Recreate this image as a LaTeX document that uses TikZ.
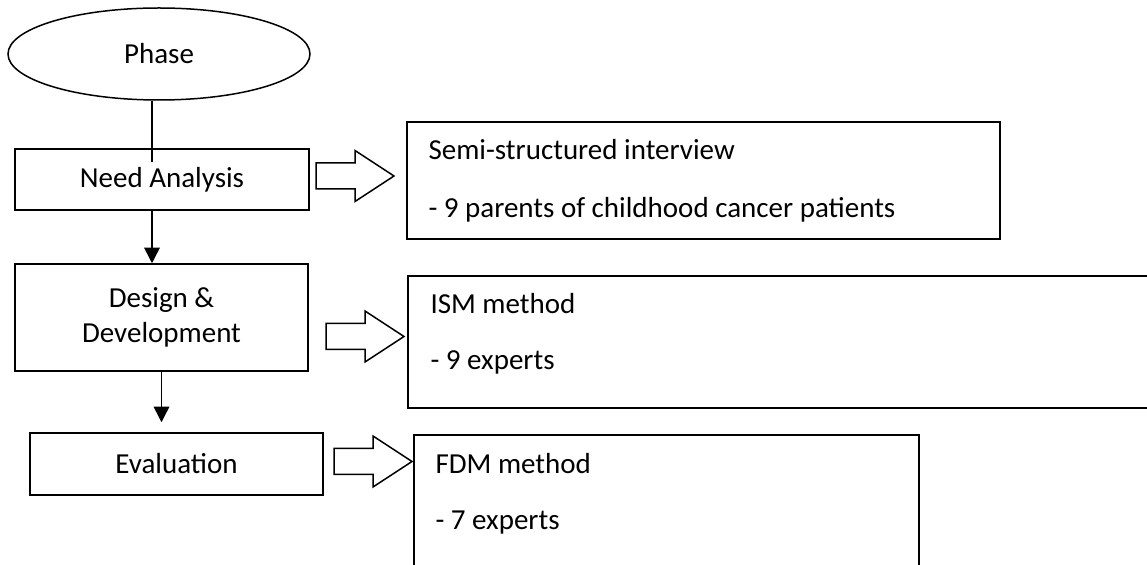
\documentclass[tikz,border=0pt]{standalone}
\usepackage{fontspec}
\setmainfont{Carlito}
\usetikzlibrary{shapes.geometric,arrows.meta}
\begin{document}
\begin{tikzpicture}[x=0.4pt,y=-0.4pt,
  font=\fontsize{11.6}{14}\selectfont,
  phasebox/.style={draw,line width=0.6pt,align=center,inner sep=0pt},
  sidebox/.style={draw,line width=0.8pt,inner sep=0pt},
  sidetext/.style={anchor=base west,inner sep=0pt},
  flow/.style={line width=0.6pt,-{Triangle[width=6.2pt,length=6.2pt]}},
  pics/fatarrow/.style={code={
    \draw[line width=0.6pt,line join=miter]
      (0,-13) -- (39,-13) -- (39,-25.5) -- (78,0) -- (39,25.5) -- (39,13) -- (0,13) -- cycle;}}]
  \useasboundingbox (0,0) rectangle (1147,565);
  \clip (0,0) rectangle (1147,565);

  % phase column
  \node[ellipse,draw,line width=0.6pt,minimum width=120.8pt,minimum height=36.8pt,inner sep=0pt]
    (ph) at (159,54) {Phase};
  \node[phasebox,minimum width=117.6pt,minimum height=24.4pt] (na) at (162,179.5) {Need Analysis};
  \node[phasebox,minimum width=117.2pt,minimum height=42.8pt] (dd) at (161.5,317.5) {Design \&\\Development};
  \node[phasebox,minimum width=117.2pt,minimum height=24.8pt] (ev) at (176.5,464) {Evaluation};

  % method boxes
  \node[sidebox,minimum width=237.2pt,minimum height=46.8pt] (s1) at (703.5,180.5) {};
  \node[sidebox,minimum width=304.8pt,minimum height=52.8pt] (s2) at (789,342) {};
  \node[sidebox,minimum width=202pt,minimum height=66pt] (s3) at (666.5,517.5) {};

  \node[sidetext] (s1a) at (428,160) {Semi-structured interview};
  \node[sidetext] (s1b) at (428,218) {- 9 parents of childhood cancer patients};
  \node[sidetext] (s2a) at (430,314) {ISM method};
  \node[sidetext] (s2b) at (430,370) {- 9 experts};
  \node[sidetext] (s3a) at (435,473) {FDM method};
  \node[sidetext] (s3b) at (435,530) {- 7 experts};

  % connectors
  \coordinate (stem) at (152,162);
  \draw[line width=0.6pt] (ph.south -| stem) -- (stem);
  \draw[flow] (na.south -| stem) -- (dd.north -| stem);
  \draw[flow,shorten >=10pt*0.4] (dd.south) -- (dd.south |- ev.north);

  % block arrows towards the method boxes
  \pic at (316,176) {fatarrow};
  \pic at (326,336.5) {fatarrow};
  \pic at (334,461.5) {fatarrow};
\end{tikzpicture}
\end{document}
